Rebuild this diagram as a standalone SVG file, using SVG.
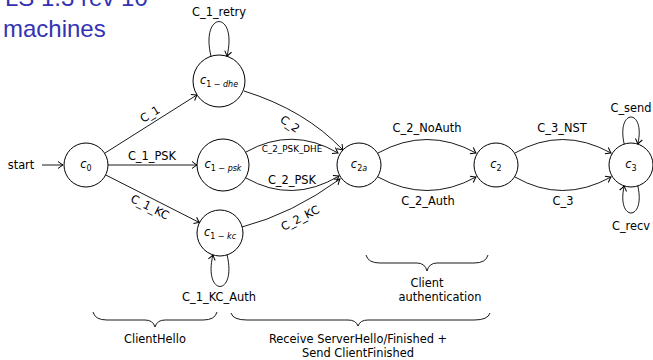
<svg xmlns="http://www.w3.org/2000/svg" width="653" height="360" viewBox="0 0 653 360">
<style>
.title{font-family:"Liberation Sans","DejaVu Sans",sans-serif;font-size:24px;fill:#3333b3}
.lbl{font-family:"DejaVu Sans",sans-serif;font-size:11.4px;fill:#000;text-anchor:middle}
.sm{font-size:8.8px}
.nl{font-family:"DejaVu Sans",sans-serif;font-size:11.4px;fill:#000;text-anchor:middle}
.it{font-style:italic}
.sub{font-size:8px}
.node{fill:#fff;stroke:#000;stroke-width:1}
.edge{fill:none;stroke:#000;stroke-width:0.9;marker-end:url(#arr)}
.brace{fill:none;stroke:#000;stroke-width:0.9}
</style>
<defs>
<marker id="arr" viewBox="-6 -4 7 8" refX="0" refY="0" markerWidth="7" markerHeight="8" orient="auto" markerUnits="userSpaceOnUse">
<path d="M-5,-3.5 Q-1.5,-0.8 0,0 Q-1.5,0.8 -5,3.5" fill="none" stroke="#000" stroke-width="1"/>
</marker>
</defs>
<rect width="653" height="360" fill="#fff"/>
<g id="title">
<text class="title" x="-9.7" y="6">TLS 1.3 rev 10</text>
<text class="title" x="3" y="37">machines</text>
</g>
<g id="connectors">
<line class="edge" x1="42" y1="165" x2="63" y2="165"/>
<text class="lbl" x="21" y="169">start</text>
<line class="edge" x1="104.6" y1="153.3" x2="197" y2="94.9"/>
<text class="lbl" transform="translate(150,114) rotate(-32)" x="0" y="4">C_1</text>
<line class="edge" x1="108" y1="165" x2="197" y2="165"/>
<text class="lbl" x="152" y="160">C_1_PSK</text>
<line class="edge" x1="105.6" y1="174.9" x2="199.5" y2="222.6"/>
<text class="lbl" transform="translate(150,207) rotate(27)" x="0" y="4">C_1_KC</text>
<path class="edge" d="M211,56.3 C200,10 238,10 227,56.3"/>
<text class="lbl" x="219" y="16">C_1_retry</text>
<path class="edge" d="M227.1,254.9 C237,297 203,297 212.9,254.9"/>
<text class="lbl" x="219" y="301">C_1_KC_Auth</text>
<path class="edge" d="M244,91 Q305,110 343,150"/>
<text class="lbl" transform="translate(290,124) rotate(35)" x="0" y="4">C_2</text>
<path class="edge" d="M246,152 Q292,126 338,153"/>
<text class="lbl sm" x="292" y="152">C_2_PSK_DHE</text>
<path class="edge" d="M246,178 Q292,204 339,176"/>
<text class="lbl" x="292" y="184">C_2_PSK</text>
<path class="edge" d="M242,227 Q292,214 340,179"/>
<text class="lbl" transform="translate(300,218) rotate(-27)" x="0" y="4">C_2_KC</text>
<path class="edge" d="M378,153 Q427,126 476,153"/>
<text class="lbl" x="427" y="132">C_2_NoAuth</text>
<path class="edge" d="M378,177 Q427,204 476,177"/>
<text class="lbl" x="428" y="205">C_2_Auth</text>
<path class="edge" d="M515,153 Q562,126 611,153"/>
<text class="lbl" x="562" y="132">C_3_NST</text>
<path class="edge" d="M515,177 Q562,204 611,177"/>
<text class="lbl" x="563" y="205">C_3</text>
<path class="edge" d="M624.2,144.1 C616,108 646,108 637.8,144.1"/>
<text class="lbl" x="631" y="112">C_send</text>
<path class="edge" d="M637.8,185.9 C646,222 616,222 624.2,185.9"/>
<text class="lbl" x="631" y="230">C_recv</text>
</g>
<g id="c0"><circle class="node" cx="86" cy="165" r="22"/><text class="nl" x="86" y="168"><tspan class="it">c</tspan><tspan class="sub" dy="2.5">0</tspan></text></g>
<g id="c1dhe"><circle class="node" cx="219" cy="81" r="26"/><text class="nl" x="219" y="84"><tspan class="it">c</tspan><tspan class="sub" dy="2.5">1 − <tspan class="it">dhe</tspan></tspan></text></g>
<g id="c1psk"><circle class="node" cx="223" cy="165" r="26"/><text class="nl" x="223" y="168"><tspan class="it">c</tspan><tspan class="sub" dy="2.5">1 − <tspan class="it">psk</tspan></tspan></text></g>
<g id="c1kc"><circle class="node" cx="220" cy="233" r="23"/><text class="nl" x="220" y="236"><tspan class="it">c</tspan><tspan class="sub" dy="2.5">1 − <tspan class="it">kc</tspan></tspan></text></g>
<g id="c2a"><circle class="node" cx="359" cy="165" r="22"/><text class="nl" x="359" y="168"><tspan class="it">c</tspan><tspan class="sub" dy="2.5">2<tspan class="it">a</tspan></tspan></text></g>
<g id="c2"><circle class="node" cx="496" cy="165" r="22"/><text class="nl" x="496" y="168"><tspan class="it">c</tspan><tspan class="sub" dy="2.5">2</tspan></text></g>
<g id="c3"><circle class="node" cx="631" cy="165" r="22"/><text class="nl" x="631" y="168"><tspan class="it">c</tspan><tspan class="sub" dy="2.5">3</tspan></text></g>
<g id="brace-clienthello">
<path class="brace" d="M93,312 Q95,320 107,320 L145,320 Q153,320 155,327 Q157,320 165,320 L203,320 Q215,320 217,312"/>
<text class="lbl" x="155" y="343">ClientHello</text>
</g>
<g id="brace-receive">
<path class="brace" d="M231,313 Q233,320 247,320 L348,320 Q356,320 358,326 Q360,320 368,320 L474,320 Q488,320 490,313"/>
<text class="lbl" x="358" y="343">Receive ServerHello/Finished +</text>
<text class="lbl" x="358" y="357">Send ClientFinished</text>
</g>
<g id="brace-clientauth">
<path class="brace" d="M366,255 Q368,263 380,263 L417,263 Q425,263 427,271 Q429,263 437,263 L474,263 Q486,263 488,255"/>
<text class="lbl" x="427" y="287">Client</text>
<text class="lbl" x="440" y="301">authentication</text>
</g>
</svg>
